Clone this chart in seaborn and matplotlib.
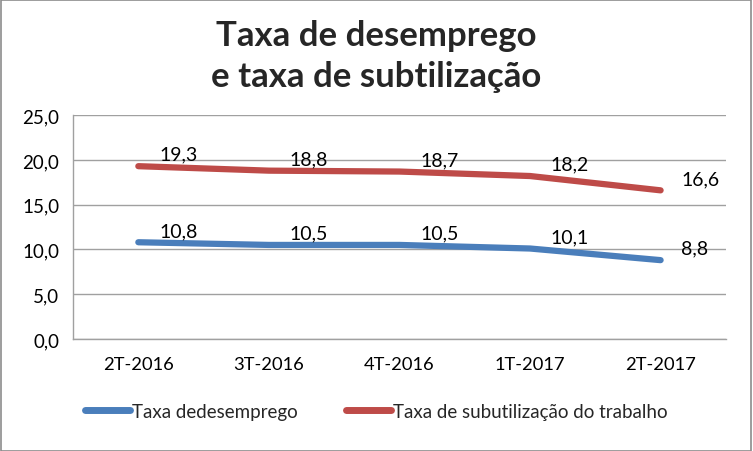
import matplotlib
matplotlib.use("Agg")
import matplotlib.pyplot as plt
import matplotlib.patches as mpatches
from matplotlib.ticker import FixedLocator, FuncFormatter
import seaborn as sns
import pandas as pd
import numpy as np

categories = ["2T-2016", "3T-2016", "4T-2016", "1T-2017", "2T-2017"]
desemprego = [10.8, 10.5, 10.5, 10.1, 8.8]
subutilizacao = [19.3, 18.8, 18.7, 18.2, 16.6]
series_names = ["Taxa dedesemprego", "Taxa de subutilização do trabalho"]
yticks = [0, 5, 10, 15, 20, 25]

sns.set_theme(style="white")
plt.rcParams['font.family'] = ['Lato', 'DejaVu Sans']

df = pd.DataFrame({
    "pos": list(range(len(categories))) * 2,
    "valor": desemprego + subutilizacao,
    "serie": [series_names[0]] * len(categories) + [series_names[1]] * len(categories),
})

colors = {series_names[0]: "#4A7EBB", series_names[1]: "#BE4B48"}

fig = plt.figure(figsize=(7.53, 4.52), dpi=100)
ax = fig.add_axes([0.097, 0.248, 0.867, 0.495])

sns.lineplot(data=df, x="pos", y="valor", hue="serie", palette=colors,
             linewidth=4.5, ax=ax, legend=False, solid_capstyle="round")

ax.set_xlim(-0.5, len(categories) - 0.5)
ax.set_ylim(0, 25)
ax.yaxis.set_major_locator(FixedLocator(yticks))
ax.yaxis.set_major_formatter(FuncFormatter(lambda v, p: f"{v:.1f}".replace(".", ",")))
ax.set_xticks(range(len(categories)))
ax.set_xticklabels(categories)
ax.xaxis.set_minor_locator(FixedLocator(np.arange(-0.5, len(categories), 1.0)))
ax.tick_params(axis="x", which="major", length=0, pad=12, labelsize=13.2, colors="black")
ax.tick_params(axis="x", which="minor", length=6, width=1, color="#A0A0A0", direction="out")
ax.tick_params(axis="y", which="major", length=5, width=1, color="#A0A0A0", direction="out",
               labelsize=13.5, pad=5)
for t in ax.get_yticklabels():
    t.set_color("black")
ax.set_xlabel("")
ax.set_ylabel("")
ax.grid(axis="y", color="#A0A0A0", linewidth=1)
ax.set_axisbelow(True)
for s in ["top", "right"]:
    ax.spines[s].set_visible(False)
for s in ["left", "bottom"]:
    ax.spines[s].set_color("#A0A0A0")
    ax.spines[s].set_linewidth(1)

for vals in (desemprego, subutilizacao):
    for i, v in enumerate(vals):
        ax.annotate(f"{v:.1f}".replace(".", ","), (i, v), xytext=(15, 8.5),
                    textcoords="offset points", ha="left", va="center",
                    fontsize=14, color="black")

fig.text(0.5, 0.92, "Taxa de desemprego", ha="center", va="center",
         fontsize=25, fontweight="bold")
fig.text(0.5, 0.83, "e taxa de subtilização", ha="center", va="center",
         fontsize=25, fontweight="bold")

handles = [plt.Line2D([0], [0], color=colors[n], linewidth=5, solid_capstyle="round")
           for n in series_names]
fig.legend(handles, series_names, loc="center", bbox_to_anchor=(0.5, 0.088), ncol=2,
           frameon=False, fontsize=13.5, handlelength=2.4, handletextpad=0.1,
           columnspacing=2.6)

border = mpatches.Rectangle((0.001, 0.001), 0.997, 0.997, transform=fig.transFigure,
                            fill=False, edgecolor="#8C8C8C", linewidth=1.2)
fig.patches.append(border)

fig.savefig("out.png", dpi=100, facecolor="white")
